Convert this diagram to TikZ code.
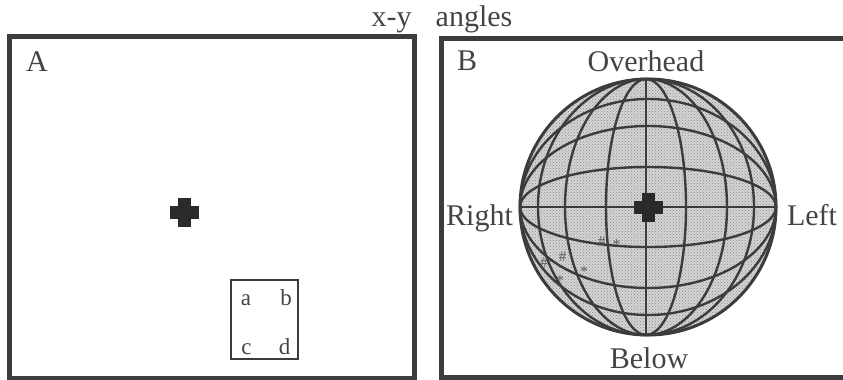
\documentclass[tikz,border=0pt]{standalone}
\usepackage{fontspec}
\setmainfont{Liberation Serif}
\usetikzlibrary{patterns}
\definecolor{ink}{HTML}{3C3C3C}
\definecolor{labelGray}{HTML}{444444}
\definecolor{sphereGray}{HTML}{D4D4D4}
\definecolor{dotGray}{HTML}{8C8C8C}
\newcommand{\FigBody}{\fontsize{30}{32}\selectfont}
\newcommand{\FigSmall}{\fontsize{23}{25}\selectfont}
\tikzset{
  panel/.style={draw=ink,line width=5pt},
  grid line/.style={draw=ink,line width=2.4pt},
  big label/.style={font=\FigBody,labelGray,anchor=base,inner sep=0pt},
  small label/.style={font=\FigSmall,labelGray,anchor=base,inner sep=0pt},
  mark label/.style={font=\fontsize{15}{15}\selectfont,black!65,inner sep=0pt},
}
\begin{document}
\begin{tikzpicture}[x=1pt,y=-1pt]
  \useasboundingbox (0,0) rectangle (843,380);
  \def\Cx{648}\def\Cy{207}\def\Mx{646}\def\Rad{128}

  % panels
  \draw[panel] (9.5,36) rectangle (414.5,378);
  \draw[panel] (843,38.5) -- (441.5,38.5) -- (441.5,377) -- (843,377);

  % titles
  \node[big label] (title xy) at (391.5,27) {x-y};
  \node[big label] (title angles) at (474,27) {angles};
  \node[big label] (panel a) at (37,71) {A};
  \node[big label] (panel b) at (467,70) {B};

  % sphere
  \fill[sphereGray] (\Cx,\Cy) circle (\Rad);
  \fill[pattern=crosshatch dots,pattern color=dotGray] (\Cx,\Cy) circle (\Rad);
  \foreach \semi in {40,81,108} {
    \draw[grid line] (\Mx,\Cy) ellipse [x radius=\semi,y radius=\Rad];
    \draw[grid line] (\Cx,\Cy) ellipse [x radius=\Rad,y radius=\semi];
  }
  \draw[grid line] (\Mx,\Cy-\Rad) -- (\Mx,\Cy+\Rad);
  \draw[grid line] (\Cx-\Rad,\Cy) -- (\Cx+\Rad,\Cy);
  \draw[ink,line width=3pt] (\Cx,\Cy) circle (\Rad);

  % crosses
  \foreach \px/\py in {184.5/212,648.5/207.5} {
    \fill[ink!70!black] (\px-14.5,\py-6.5) rectangle (\px+14.5,\py+6.5);
    \fill[ink!70!black] (\px-6.5,\py-14.5) rectangle (\px+6.5,\py+14.5);
  }

  % sphere labels
  \node[big label] (overhead) at (646,71) {Overhead};
  \node[big label] (below) at (649,368) {Below};
  \node[big label] (right) at (479.5,225) {Right};
  \node[big label] (left) at (812,225) {Left};

  % data marks
  \node[mark label] (m1) at (601.7,241.7) {\#};
  \node[mark label] (m2) at (616.7,244.5) {*};
  \node[mark label] (m3) at (562.7,256.7) {\#};
  \node[mark label] (m4) at (584,272) {*};
  \node[mark label] (m5) at (560,281) {*};
  \node[mark label] (m6) at (544,262.7) {\#};

  % small box
  \draw[ink,line width=2pt] (230.5,280) rectangle (298,359);
  \node[small label] (a) at (246,305) {a};
  \node[small label] (b) at (286,305) {b};
  \node[small label] (c) at (246.5,354) {c};
  \node[small label] (d) at (284.5,354) {d};
\end{tikzpicture}
\end{document}
